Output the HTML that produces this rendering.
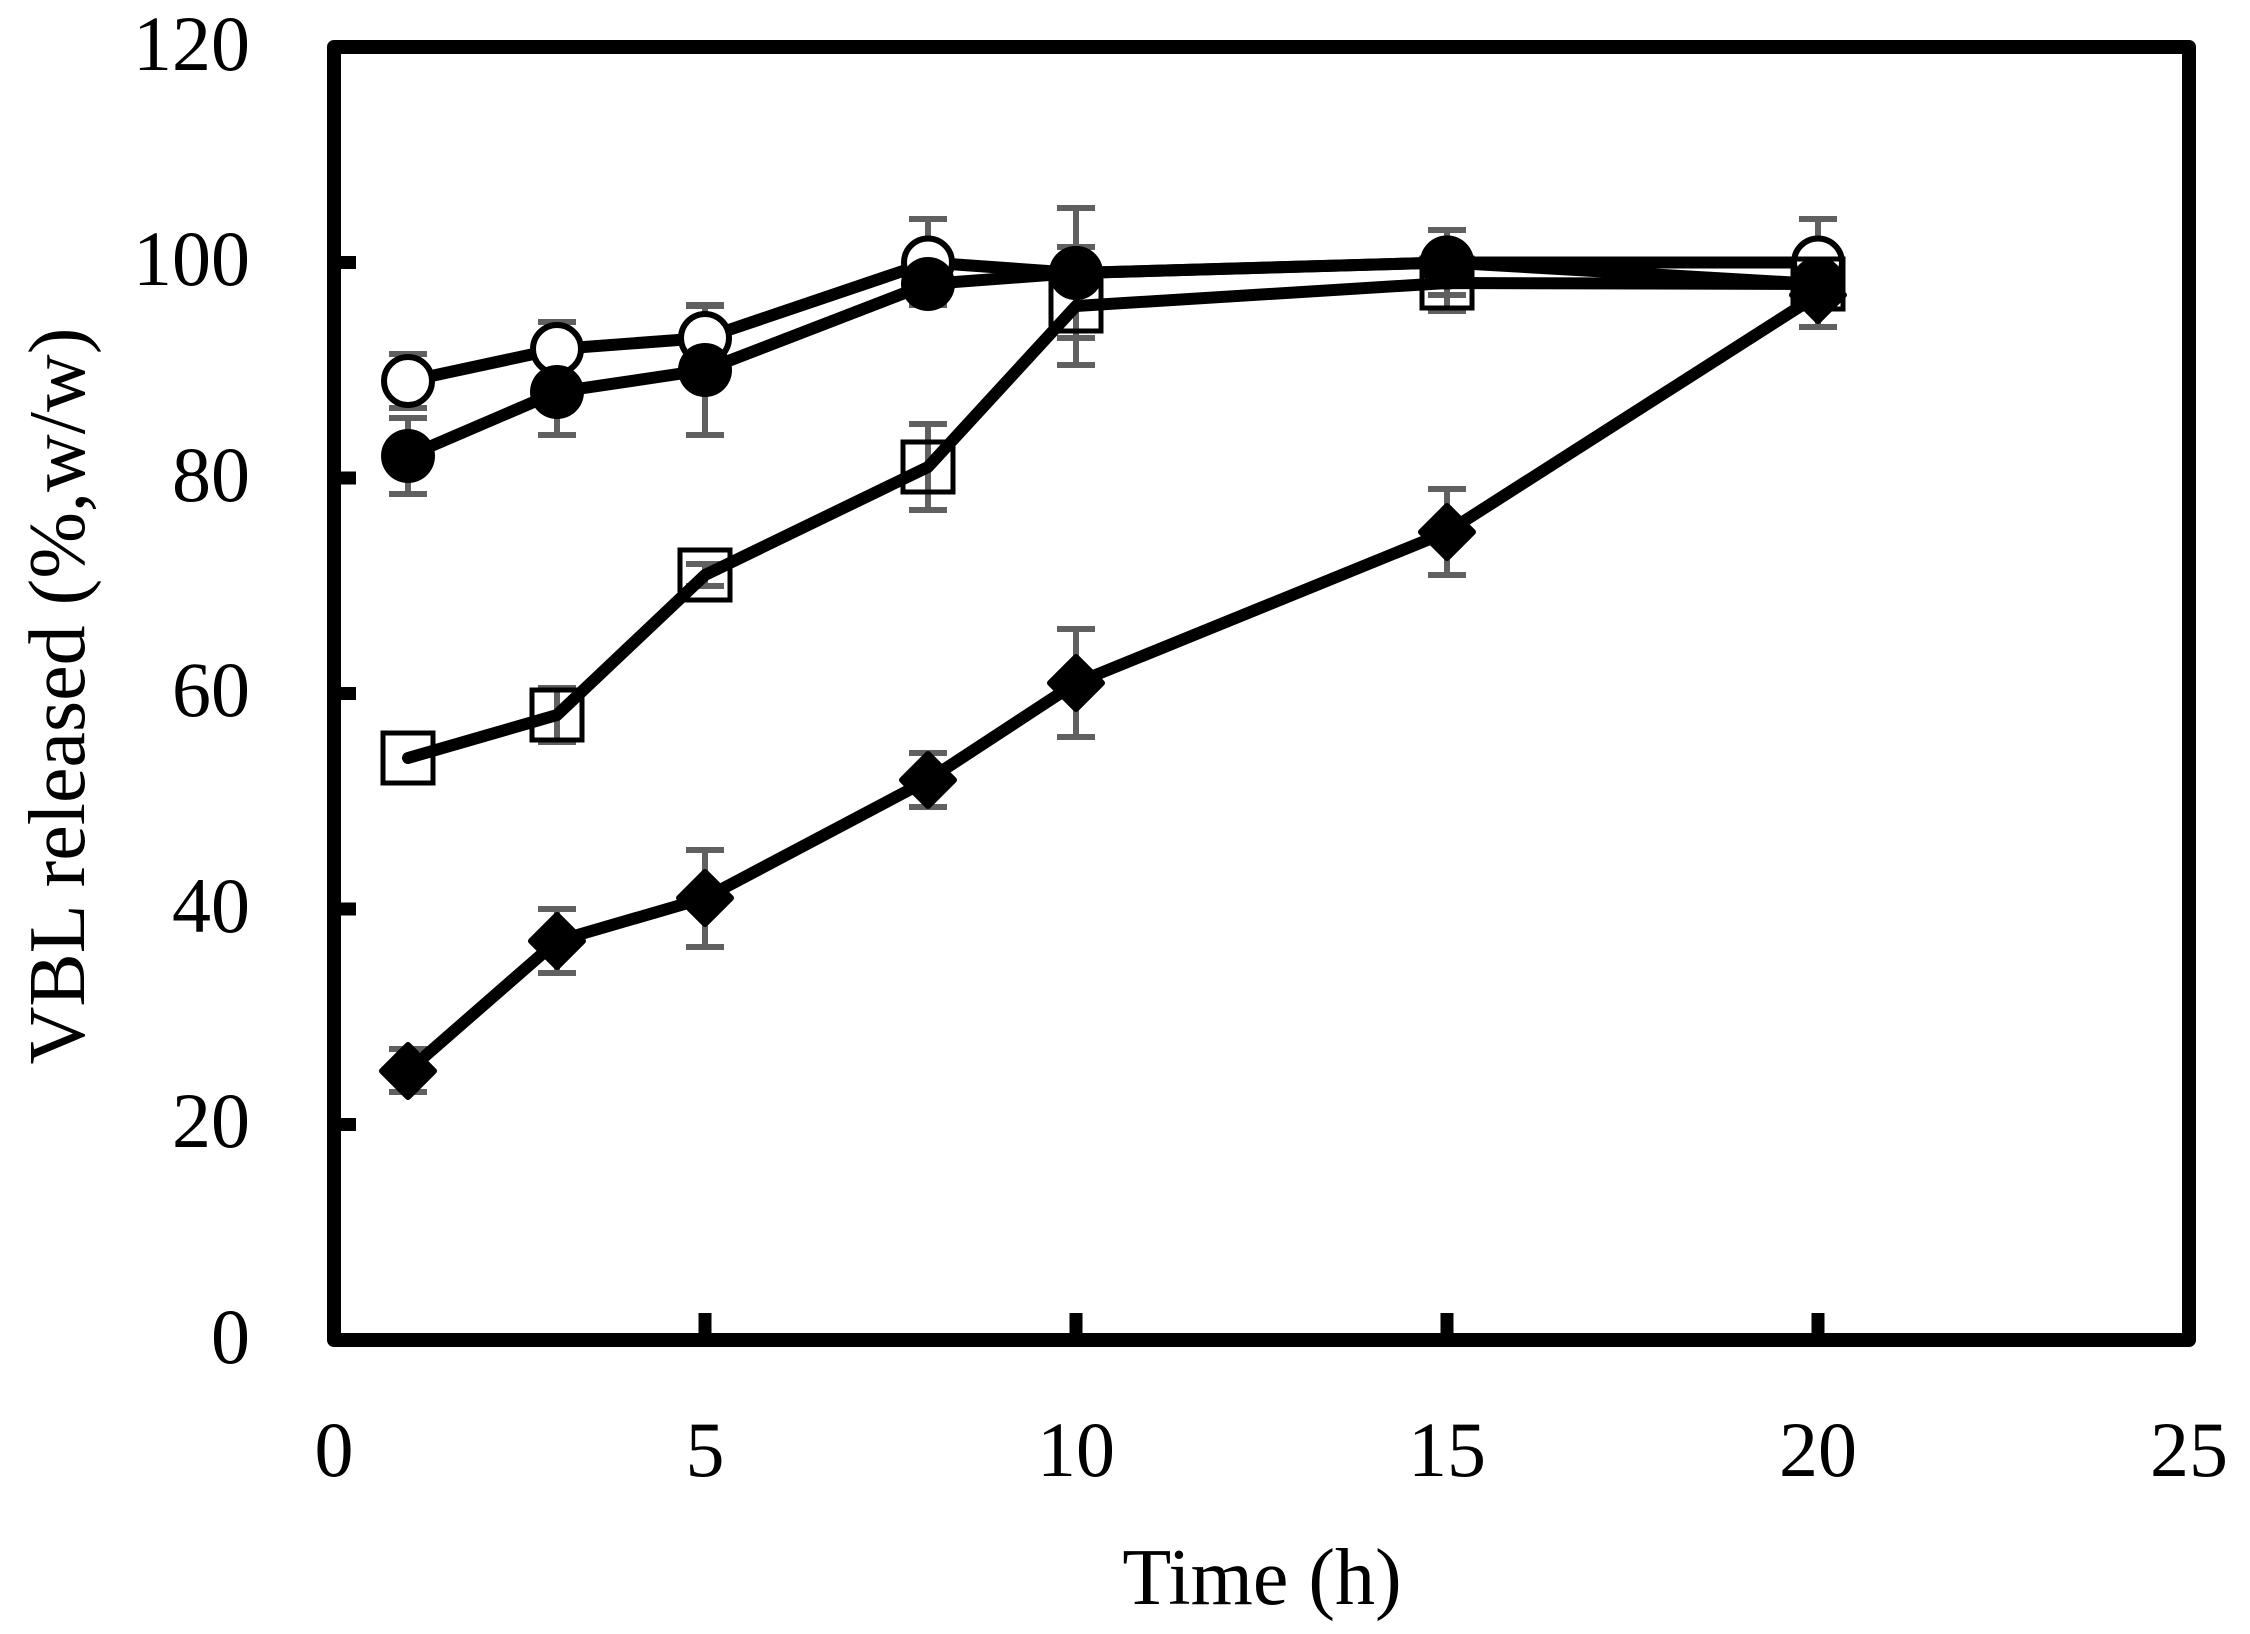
<!DOCTYPE html>
<html><head><meta charset="utf-8"><style>
html,body{margin:0;padding:0;background:#fff;}
svg{display:block;}
text{font-family:"Liberation Serif",serif;fill:#000;}
</style></head><body>
<svg width="2250" height="1634" viewBox="0 0 2250 1634" xmlns="http://www.w3.org/2000/svg">
<rect width="2250" height="1634" fill="#fff"/>
<!-- frame -->
<rect x="334" y="47" width="1855" height="1293" fill="none" stroke="#000" stroke-width="14" stroke-linejoin="round"/>
<!-- y ticks -->
<g stroke="#000" stroke-width="13">
<line x1="334" y1="1124.5" x2="356" y2="1124.5"/>
<line x1="334" y1="909" x2="356" y2="909"/>
<line x1="334" y1="693.5" x2="356" y2="693.5"/>
<line x1="334" y1="478" x2="356" y2="478"/>
<line x1="334" y1="262.5" x2="356" y2="262.5"/>
<line x1="705" y1="1340" x2="705" y2="1313"/>
<line x1="1076" y1="1340" x2="1076" y2="1313"/>
<line x1="1447" y1="1340" x2="1447" y2="1313"/>
<line x1="1818" y1="1340" x2="1818" y2="1313"/>
</g>
<g font-size="78" text-anchor="end">
<text x="250" y="1363">0</text>
<text x="250" y="1147">20</text>
<text x="250" y="932">40</text>
<text x="250" y="716">60</text>
<text x="250" y="501">80</text>
<text x="250" y="285">100</text>
<text x="250" y="70">120</text>
</g>
<g font-size="78" text-anchor="middle">
<text x="334" y="1476">0</text>
<text x="705" y="1476">5</text>
<text x="1076" y="1476">10</text>
<text x="1447" y="1476">15</text>
<text x="1818" y="1476">20</text>
<text x="2189" y="1476">25</text>
</g>
<text x="1262" y="1604" font-size="80" text-anchor="middle">Time (h)</text>
<text transform="translate(84,696) rotate(-90)" font-size="80" text-anchor="middle">VBL released (%,w/w)</text>

<!-- error bars -->
<g stroke="#606060" stroke-width="6" fill="none">
<path d="M408 354v54M389 354h38M389 408h38"/>
<path d="M557 322v54M538 322h38M538 376h38"/>
<path d="M705 306v64M686 306h38M686 370h38"/>
<path d="M928 219v86M909 219h38M909 305h38"/>
<path d="M1818 219v86M1799 219h38M1799 305h38"/>
<path d="M408 418v76M389 418h38M389 494h38"/>
<path d="M557 349v86M538 349h38M538 435h38"/>
<path d="M705 305v130M686 305h38M686 435h38"/>
<path d="M1076 208v130M1057 208h38M1057 338h38"/>
<path d="M1447 230v65M1428 230h38M1428 295h38"/>
<path d="M557 688v54M538 688h38M538 742h38"/>
<path d="M705 564v22M686 564h38M686 586h38"/>
<path d="M928 424v86M909 424h38M909 510h38"/>
<path d="M1076 247v118M1057 247h38M1057 365h38"/>
<path d="M1447 257v54M1428 257h38M1428 311h38"/>
<path d="M408 1049v43M389 1049h38M389 1092h38"/>
<path d="M557 909v64M538 909h38M538 973h38"/>
<path d="M705 850v97M686 850h38M686 947h38"/>
<path d="M928 753v54M909 753h38M909 807h38"/>
<path d="M1076 629v108M1057 629h38M1057 737h38"/>
<path d="M1447 489v86M1428 489h38M1428 575h38"/>
<path d="M1818 263v64M1799 263h38M1799 327h38"/>
</g>

<!-- lines -->
<g fill="none" stroke="#000" stroke-width="12" stroke-linejoin="round" stroke-linecap="round">
<polyline points="408,381 557,349 705,338 928,262.5 1076,273 1447,262.5 1818,262.5"/>
<polyline points="408,456 557,392 705,370 928,284 1076,273 1447,262.5 1818,284"/>
<polyline points="408,758 557,715 705,575 928,467 1076,306 1447,283 1818,284"/>
<polyline points="408,1071 557,941 705,898 928,780 1076,683 1447,532 1818,295"/>
</g>

<!-- markers -->
<g fill="#fff" stroke="#000" stroke-width="6">
<circle cx="408" cy="381" r="24"/><circle cx="557" cy="349" r="24"/><circle cx="705" cy="338" r="24"/>
<circle cx="928" cy="262.5" r="24"/><circle cx="1076" cy="273" r="24"/><circle cx="1447" cy="262.5" r="24"/><circle cx="1818" cy="262.5" r="24"/>
</g>
<g fill="none" stroke="#000" stroke-width="5">
<rect x="383" y="733" width="50" height="50"/><rect x="532" y="690" width="50" height="50"/><rect x="680" y="550" width="50" height="50"/>
<rect x="903" y="442" width="50" height="50"/><rect x="1051" y="281" width="50" height="50"/><rect x="1422" y="258" width="50" height="50"/><rect x="1793" y="259" width="50" height="50"/>
</g>
<g fill="#000">
<circle cx="408" cy="456" r="27"/><circle cx="557" cy="392" r="27"/><circle cx="705" cy="370" r="27"/>
<circle cx="928" cy="284" r="27"/><circle cx="1076" cy="273" r="27"/><circle cx="1447" cy="262.5" r="27"/><circle cx="1818" cy="284" r="27"/>
</g>
<g fill="#000" stroke="#000" stroke-width="6" stroke-linejoin="round">
<path d="M408 1045l26 26l-26 26l-26-26z"/>
<path d="M557 915l26 26l-26 26l-26-26z"/>
<path d="M705 872l26 26l-26 26l-26-26z"/>
<path d="M928 754l26 26l-26 26l-26-26z"/>
<path d="M1076 657l26 26l-26 26l-26-26z"/>
<path d="M1447 506l26 26l-26 26l-26-26z"/>
<path d="M1818 269l26 26l-26 26l-26-26z"/>
</g>
</svg>
</body></html>
